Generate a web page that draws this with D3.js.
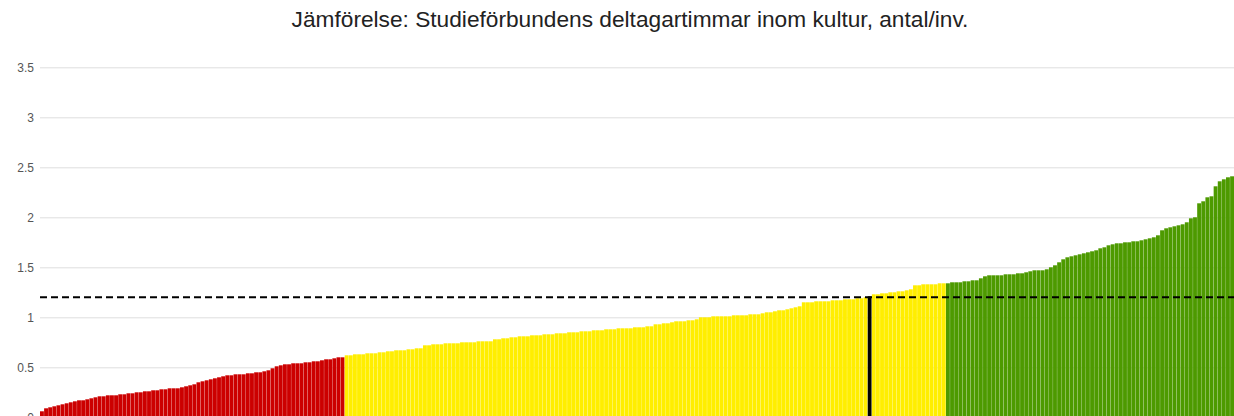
<!DOCTYPE html>
<html>
<head>
<meta charset="utf-8">
<script src="https://cdn.jsdelivr.net/npm/d3@7"></script>
<style>
	html, body { margin: 0; padding: 0; background: #fff; overflow: hidden; }
	#chart { width: 1234px; height: 416px; overflow: hidden; }
</style>
</head>
<body>
<div id="chart"></div>
<script>
const chartTitle = "Jämförelse: Studieförbundens deltagartimmar inom kultur, antal/inv.";

// deltagartimmar per invånare, sorterade stigande (en stapel per kommun)
const lowValues = [
	0.06, 0.09, 0.10, 0.11, 0.12, 0.13, 0.14, 0.15, 0.16, 0.17,
	0.17, 0.18, 0.19, 0.20, 0.21, 0.21, 0.22, 0.22, 0.22, 0.23,
	0.23, 0.24, 0.24, 0.25, 0.25, 0.26, 0.26, 0.27, 0.27, 0.28,
	0.28, 0.29, 0.29, 0.29, 0.30, 0.31, 0.32, 0.33, 0.35, 0.36,
	0.37, 0.38, 0.39, 0.40, 0.41, 0.42, 0.42, 0.43, 0.43, 0.43,
	0.44, 0.44, 0.45, 0.45, 0.46, 0.47, 0.49, 0.51, 0.52, 0.53,
	0.53, 0.54, 0.54, 0.54, 0.55, 0.55, 0.56, 0.56, 0.57, 0.58,
	0.58, 0.59, 0.60, 0.60
];
const midValues = [
	0.62, 0.62, 0.63, 0.63, 0.63, 0.64, 0.64, 0.64, 0.65, 0.65,
	0.66, 0.66, 0.67, 0.67, 0.67, 0.68, 0.68, 0.69, 0.69, 0.72,
	0.72, 0.73, 0.73, 0.73, 0.74, 0.74, 0.74, 0.74, 0.75, 0.75,
	0.75, 0.75, 0.76, 0.76, 0.76, 0.76, 0.78, 0.78, 0.79, 0.79,
	0.80, 0.80, 0.81, 0.81, 0.81, 0.82, 0.82, 0.82, 0.83, 0.83,
	0.83, 0.84, 0.84, 0.84, 0.85, 0.85, 0.85, 0.86, 0.86, 0.86,
	0.87, 0.87, 0.87, 0.88, 0.88, 0.88, 0.89, 0.89, 0.89, 0.89,
	0.90, 0.90, 0.90, 0.91, 0.91, 0.93, 0.93, 0.94, 0.94, 0.95,
	0.96, 0.96, 0.96, 0.97, 0.97, 0.98, 1.00, 1.00, 1.00, 1.01,
	1.01, 1.01, 1.01, 1.01, 1.02, 1.02, 1.02, 1.02, 1.03, 1.03,
	1.03, 1.04, 1.05, 1.05, 1.06, 1.07, 1.07, 1.08, 1.09, 1.10,
	1.11, 1.15, 1.15, 1.15, 1.16, 1.16, 1.16, 1.16, 1.17, 1.17,
	1.17, 1.18, 1.18, 1.18, 1.19, 1.19, 1.20, 1.21, 1.23, 1.23,
	1.24, 1.24, 1.25, 1.25, 1.26, 1.26, 1.27, 1.28, 1.32, 1.32,
	1.33, 1.33, 1.33, 1.33, 1.34, 1.34
];
const highValues = [
	1.34, 1.35, 1.35, 1.35, 1.36, 1.36, 1.37, 1.37, 1.39, 1.41,
	1.42, 1.42, 1.42, 1.42, 1.43, 1.43, 1.43, 1.44, 1.44, 1.45,
	1.46, 1.47, 1.47, 1.47, 1.48, 1.50, 1.52, 1.55, 1.58, 1.60,
	1.61, 1.62, 1.63, 1.64, 1.65, 1.66, 1.67, 1.69, 1.70, 1.72,
	1.73, 1.74, 1.74, 1.75, 1.75, 1.76, 1.76, 1.77, 1.78, 1.79,
	1.80, 1.82, 1.87, 1.89, 1.90, 1.91, 1.92, 1.93, 1.95, 1.99,
	2.00, 2.14, 2.16, 2.20, 2.21, 2.31, 2.36, 2.38, 2.40, 2.41
];
const highlightIndex = 201;   // vald kommun (svart stapel)
const referenceValue = 1.2;   // streckad jämförelselinje
const yTicks = [0, 0.5, 1, 1.5, 2, 2.5, 3, 3.5];

const groupColors = { low: "#cc0000", mid: "#ffee00", high: "#4d9a00" };

function makeChart() {
	const width = 1234;
	const height = 432;
	const margin = { top: 67.3, right: 0, bottom: 14.7, left: 40 };

	const data = [
		...lowValues.map(v => ({ value: v, group: "low" })),
		...midValues.map(v => ({ value: v, group: "mid" })),
		...highValues.map(v => ({ value: v, group: "high" }))
	];
	data.forEach((d, i) => d.index = i);

	const x = d3.scaleBand()
		.domain(data.map(d => d.index))
		.range([margin.left, width - margin.right])
		.paddingInner(0.06)
		.paddingOuter(0);

	const y = d3.scaleLinear()
		.domain([0, 3.5])
		.range([height - margin.bottom, margin.top]);

	const svg = d3.create("svg")
		.attr("width", width)
		.attr("height", height)
		.style("font-family", "Arial, 'Liberation Sans', sans-serif");

	// title
	svg.append("text")
		.attr("x", 630)
		.attr("y", 27)
		.attr("text-anchor", "middle")
		.attr("fill", "#222")
		.style("font-size", "22.7px")
		.text(chartTitle);

	// gridlines + tick labels
	const yAxis = svg.append("g")
		.attr("transform", `translate(${margin.left},0)`)
		.call(d3.axisLeft(y)
			.tickValues(yTicks)
			.tickFormat(d3.format("~g"))
			.tickSize(-(width - margin.left - margin.right))
			.tickPadding(6));
	yAxis.select(".domain").remove();
	yAxis.selectAll(".tick line").attr("stroke", "#dedede");
	yAxis.selectAll(".tick text")
		.attr("fill", "#555")
		.style("font-size", "12px")
		.style("font-family", "Arial, 'Liberation Sans', sans-serif");

	// bars
	svg.append("g")
		.selectAll("rect")
		.data(data)
		.join("rect")
			.attr("x", d => x(d.index))
			.attr("width", x.bandwidth())
			.attr("y", d => y(d.value))
			.attr("height", d => y(0) - y(d.value))
			.attr("fill", d => d.index === highlightIndex ? "#000" : groupColors[d.group]);

	// reference line
	svg.append("line")
		.attr("x1", margin.left)
		.attr("x2", width - margin.right)
		.attr("y1", y(referenceValue))
		.attr("y2", y(referenceValue))
		.attr("stroke", "#000")
		.attr("stroke-width", 2)
		.attr("stroke-dasharray", "7,4");

	const chart = d3.select("#chart");
	chart.node().innerHTML = "";
	chart.node().appendChild(svg.node());
}

makeChart();
</script>
</body>
</html>
